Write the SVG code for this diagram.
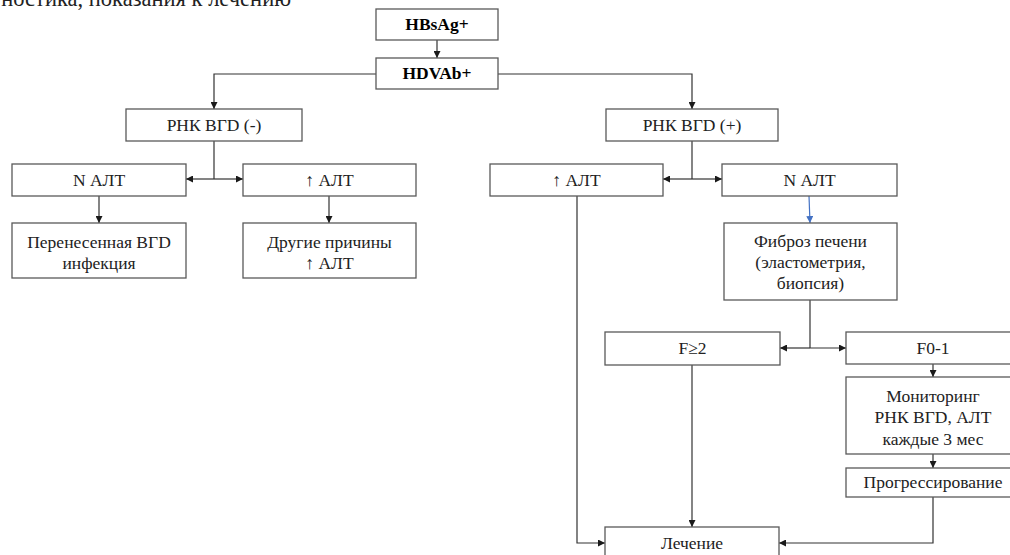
<svg xmlns="http://www.w3.org/2000/svg" width="1010" height="555" viewBox="0 0 1010 555">
<defs>
<marker id="ah" viewBox="0 0 8 8" refX="8" refY="4" markerWidth="7" markerHeight="7" markerUnits="userSpaceOnUse" orient="auto"><path d="M0,0 L8,4 L0,8 Z" fill="#1a1a1a"/></marker>
<marker id="ahb" viewBox="0 0 8 8" refX="8" refY="4" markerWidth="7" markerHeight="7" markerUnits="userSpaceOnUse" orient="auto"><path d="M0,0 L8,4 L0,8 Z" fill="#4472C4"/></marker>
<style>
.box{fill:#fff;stroke:#595959;stroke-width:1.3}
.t{font-family:'Liberation Serif',serif;font-size:17.5px;fill:#222;text-anchor:middle}
.b{font-weight:bold;fill:#000}
.c{fill:none;stroke:#333;stroke-width:1.2}
.a{marker-end:url(#ah)}
</style>
</defs>
<rect width="1010" height="555" fill="#fff"/>
<text x="291" y="6" font-family="Liberation Serif, serif" font-size="22.5" fill="#222" text-anchor="end">Диагностика, показания к лечению</text>
<g id="connectors">
<path class="c a" d="M437,40 V58"/>
<path class="c a" d="M376,74 H214 V109"/>
<path class="c a" d="M498,74 H692 V109"/>
<path class="c" d="M214,141 V179"/>
<path class="c a" d="M214,179 H186"/>
<path class="c a" d="M214,179 H243"/>
<path class="c a" d="M99,196 V223"/>
<path class="c a" d="M329,196 V223"/>
<path class="c" d="M692,141 V179"/>
<path class="c a" d="M692,179 H663"/>
<path class="c a" d="M692,179 H722"/>
<path class="c a" d="M577,196 V543 H605"/>
<path d="M809,196 L810,223" fill="none" stroke="#4472C4" stroke-width="1.2" marker-end="url(#ahb)"/>
<path class="c" d="M810,300 V348"/>
<path class="c a" d="M810,348 H780"/>
<path class="c a" d="M810,348 H846"/>
<path class="c a" d="M692,365 V527"/>
<path class="c a" d="M933,364 V377"/>
<path class="c a" d="M933,454 V468"/>
<path class="c a" d="M933,497 V543 H779"/>
</g>
<g font-family="Liberation Serif, serif">
<g id="hbsag"><rect class="box" x="376" y="9" width="122" height="31"/><text class="t b" x="437" y="30">HBsAg+</text></g>
<g id="hdvab"><rect class="box" x="376" y="58" width="122" height="31"/><text class="t b" x="437" y="79">HDVAb+</text></g>
<g id="rna-neg"><rect class="box" x="126" y="109" width="176" height="32"/><text class="t" x="214" y="131">РНК ВГD (-)</text></g>
<g id="n-alt-left"><rect class="box" x="12" y="164" width="174" height="32"/><text class="t" x="99" y="186">N АЛТ</text></g>
<g id="up-alt-left"><rect class="box" x="243" y="164" width="173" height="32"/><text class="t" x="329.5" y="186">↑ АЛТ</text></g>
<g id="past-infection"><rect class="box" x="12" y="223" width="174" height="55"/><text class="t" x="99" y="248">Перенесенная  ВГD</text><text class="t" x="99" y="269">инфекция</text></g>
<g id="other-causes"><rect class="box" x="243" y="223" width="173" height="55"/><text class="t" x="329.5" y="248">Другие причины</text><text class="t" x="329.5" y="269">↑ АЛТ</text></g>
<g id="rna-pos"><rect class="box" x="606" y="109" width="172" height="32"/><text class="t" x="692" y="131">РНК ВГD (+)</text></g>
<g id="up-alt-right"><rect class="box" x="490" y="164" width="173" height="32"/><text class="t" x="576.5" y="186">↑ АЛТ</text></g>
<g id="n-alt-right"><rect class="box" x="722" y="164" width="175" height="32"/><text class="t" x="809.5" y="186">N АЛТ</text></g>
<g id="fibrosis"><rect class="box" x="724" y="223" width="173" height="77"/><text class="t" x="810.5" y="247">Фиброз печени</text><text class="t" x="810.5" y="268">(эластометрия,</text><text class="t" x="810.5" y="289">биопсия)</text></g>
<g id="f2"><rect class="box" x="605" y="332" width="175" height="33"/><text class="t" x="692.5" y="354">F≥2</text></g>
<g id="f01"><rect class="box" x="846" y="332" width="174" height="32"/><text class="t" x="933" y="354">F0-1</text></g>
<g id="monitoring"><rect class="box" x="846" y="377" width="174" height="77"/><text class="t" x="933" y="402">Мониторинг</text><text class="t" x="933" y="423">РНК ВГD,  АЛТ</text><text class="t" x="933" y="445">каждые 3 мес</text></g>
<g id="progression"><rect class="box" x="846" y="468" width="174" height="29"/><text class="t" x="933" y="488">Прогрессирование</text></g>
<g id="treatment"><rect class="box" x="605" y="527" width="174" height="34"/><text class="t" x="692" y="549">Лечение</text></g>
</g>
</svg>
